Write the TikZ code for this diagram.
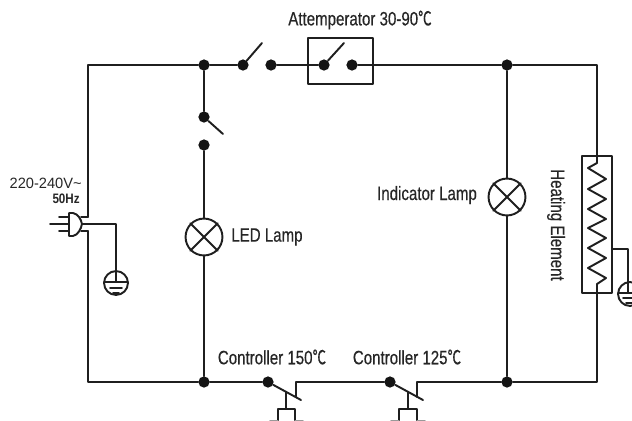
\documentclass[tikz,border=0pt]{standalone}
\usepackage{fontspec}
\setmainfont{Liberation Sans}
\newfontfamily\lblfont[FakeStretch=0.78,FakeBold=0.4]{Liberation Sans}
\newfontfamily\cjk[FakeStretch=0.7,FakeBold=0.2]{Noto Sans CJK SC}
\newcommand{\degc}{{\cjk ℃}}
\tikzset{
  wire/.style={line width=1.1pt,line cap=round,line join=round,black!88},
  dot/.style={circle,fill=black!92,minimum size=6.4pt,inner sep=0pt},
  lamp/.style={circle,draw=black!88,line width=1.1pt,minimum size=21pt,inner sep=0pt},
  earth/.style={circle,draw=black!88,line width=1.1pt,minimum size=13.6pt,inner sep=0pt},
  lbl/.style={inner sep=0pt,font=\lblfont\fontsize{11}{13}\selectfont,black!85}
}
\begin{document}
\begin{tikzpicture}[x=0.02cm,y=-0.02cm]
  \useasboundingbox (0,0) rectangle (632,420);
  \clip (0,0) rectangle (632,420);
  % dots
  \node at (204,65) [dot] (topa) {};
  \node at (243,65) [dot] (swa) {};
  \node at (271,65) [dot] (swb) {};
  \node at (324,65) [dot] (atta) {};
  \node at (352,65) [dot] (attb) {};
  \node at (507,65) [dot] (topb) {};
  \node at (204,117) [dot] (leda) {};
  \node at (204,145) [dot] (ledb) {};
  \node at (204,382) [dot] (bota) {};
  \node at (268,382) [dot] (cona) {};
  \node at (390,382) [dot] (conb) {};
  \node at (507,382) [dot] (botb) {};
  % lamps
  \node at (204,237) [lamp] (led) {};
  \node at (507,197) [lamp] (ind) {};
  \draw[wire] (led.north east) -- (led.south west) (led.north west) -- (led.south east);
  \draw[wire] (ind.north east) -- (ind.south west) (ind.north west) -- (ind.south east);
  % corners
  \coordinate (ptop) at (88,217);
  \coordinate (pbot) at (88,231);
  \coordinate (heata) at (597,156);
  \coordinate (heatb) at (597,293);
  \draw[wire] (ptop) -- (88,65) -- (topa) -- (swa);
  \draw[wire] (swb) -- (atta) (attb) -- (topb) -- (597,65) -- (heata);
  \draw[wire] (pbot) -- (88,382) -- (bota) -- (cona);
  \draw[wire] (topa) -- (leda) (ledb) -- (led) (led) -- (bota);
  \draw[wire] (topb) -- (ind) (ind) -- (botb);
  \draw[wire] (heatb) -- (597,382) -- (botb) -- (417,382) -- (417,397);
  \draw[wire] (296,397) -- (296,382) -- (conb);
  % switch arms
  \draw[wire] (swa) -- (262,43);
  \draw[wire] (atta) -- (344,43);
  \draw[wire] (leda) -- (223,134);
  \draw[wire] (cona) -- (301,400);
  \draw[wire] (conb) -- (423,400);
  % thermostat box
  \draw[wire] (308,38) rectangle (373,84);
  % pushers
  \draw[wire] (286,392) -- (286,409) (278,423) -- (278,409) -- (295,409) -- (295,423);
  \draw[wire] (408,392) -- (408,409) (399,423) -- (399,409) -- (417,409) -- (417,423);
  \draw[wire,black!40] (270,421) -- (278,421) (295,421) -- (303,421) (391,421) -- (399,421) (417,421) -- (425,421);
  % plug
  \draw[wire] (81,217) -- (ptop) (81,231) -- (pbot);
  \draw[wire] (59,217) -- (69,217) (59,231) -- (69,231) (50,224) -- (69,224);
  \draw[wire] (69,213) -- (69,236) (69,213) -- (73,213) .. controls (78,214) and (81,219) .. (82,224) .. controls (81,229) and (78,235) .. (73,236) -- (69,236);
  % earth left
  \node at (116,283) [earth] (gnda) {};
  \draw[wire] (82,224) -- (116,224) -- (116,282);
  \draw[wire] (104,282) -- (128,282) (110,288) -- (122,288) (113,293) -- (119,293);
  % heating element
  \draw[wire] (582,156) rectangle (612,293);
  \draw[wire] (heata) -- (597,163) -- (588,168) -- (606,179) -- (588,189) -- (606,199) -- (588,209) -- (606,219) -- (588,228) -- (606,238) -- (588,248) -- (606,258) -- (588,268) -- (606,278) -- (597,284) -- (heatb);
  % earth right
  \node at (630,294) [earth] (gndb) {};
  \draw[wire] (612,249) -- (628,249) -- (628,293);
  \draw[wire] (618,293) -- (632,293) (623,298) -- (632,298) (626,303) -- (632,303);
  % labels
  \node at (360,20) [lbl] (lblatt) {Attemperator 30-90\degc};
  \node at (231,237) [lbl,anchor=west] (lblled) {LED Lamp};
  \node at (427,195) [lbl] (lblind) {Indicator Lamp};
  \node at (556,225) [lbl,rotate=-90] (lblheat) {Heating Element};
  \node at (82,183) [lbl,anchor=east,xscale=0.98,font=\fontsize{8.5}{10}\selectfont] (lblvolt) {220-240V\textasciitilde};
  \node at (80,199) [lbl,anchor=east,xscale=0.85,font=\fontsize{7.8}{10}\selectfont\bfseries] (lblhz) {50Hz};
  \node at (272,357) [lbl] (lblcona) {Controller 150\degc};
  \node at (407,357) [lbl] (lblconb) {Controller 125\degc};
\end{tikzpicture}
\end{document}
